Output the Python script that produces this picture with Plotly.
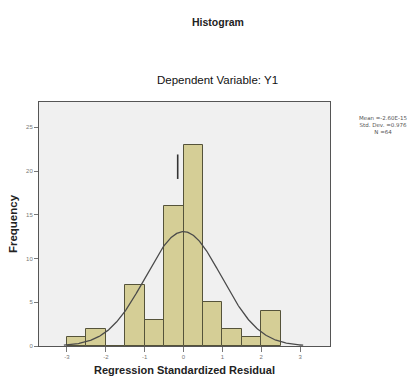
import numpy as np
import plotly.graph_objects as go

# Histogram bins (standardized residuals), bin width 0.5
bin_left_edges = [-3.0, -2.5, -2.0, -1.5, -1.0, -0.5, 0.0, 0.5, 1.0, 1.5, 2.0]
frequencies = [1, 2, 0, 7, 3, 16, 23, 5, 2, 1, 4]
bin_width = 0.5

# Normal curve parameters (from the legend)
mean_val = 0.0
std_dev = 0.976
n_obs = 64
curve_range = [-3.08, 3.08]
stats_text = ["Mean =-2.60E-15", "Std. Dev. =0.976", "N =64"]

x_ticks = [-3, -2, -1, 0, 1, 2, 3]
y_ticks = [0, 5, 10, 15, 20, 25]

# stray vertical mark seen in the reference
mark_x = [-0.15, -0.15]
mark_y = [19.1, 21.9]

centers = [e + bin_width / 2 for e in bin_left_edges]
xs = np.linspace(curve_range[0], curve_range[1], 300)
ys = n_obs * bin_width * np.exp(-0.5 * ((xs - mean_val) / std_dev) ** 2) / (std_dev * np.sqrt(2 * np.pi))

fig = go.Figure()
fig.add_trace(go.Bar(
    x=centers, y=frequencies, width=bin_width,
    marker=dict(color="#d5ce96", line=dict(color="#55533a", width=1)),
    showlegend=False,
))
fig.add_trace(go.Scatter(
    x=xs, y=ys, mode="lines",
    line=dict(color="#4a4a4a", width=1.3), showlegend=False,
))
fig.add_trace(go.Scatter(
    x=mark_x, y=mark_y, mode="lines",
    line=dict(color="#333333", width=1.6), showlegend=False,
))

font = "Liberation Sans, Arial, sans-serif"
fig.update_layout(
    width=417, height=387,
    margin=dict(l=39, r=87, t=102, b=38),
    paper_bgcolor="white", plot_bgcolor="#f0f0f0",
    bargap=0,
    font=dict(family=font, color="#333333"),
    xaxis=dict(
        range=[-3.72, 3.77], tickvals=x_ticks, ticktext=[str(v) for v in x_ticks],
        showgrid=False, zeroline=False, showline=True, linecolor="#555555", linewidth=1,
        mirror=True, ticks="outside", ticklen=5, tickcolor="#777777",
        tickfont=dict(size=6, color="#777777"),
        title=dict(text="<b>Regression Standardized Residual</b>", font=dict(size=11, color="#222222"), standoff=7),
    ),
    yaxis=dict(
        range=[0, 27.9], tickvals=y_ticks, ticktext=[str(v) for v in y_ticks],
        showgrid=False, zeroline=False, showline=True, linecolor="#555555", linewidth=1,
        mirror=True, ticks="outside", ticklen=4, tickcolor="#777777",
        tickfont=dict(size=6, color="#777777"),
        title=dict(text="<b>Frequency</b>", font=dict(size=11.5, color="#222222"), standoff=6),
    ),
)

plot_w = 417 - 39 - 87
plot_h = 387 - 102 - 38
def px(xp):
    return (xp - 39) / plot_w
def py(yp):
    return (387 - 38 - yp) / plot_h

fig.add_annotation(text="<b>Histogram</b>", x=px(218), y=py(21), xref="paper", yref="paper",
                   showarrow=False, font=dict(size=10.5, color="#222222"), xanchor="center", yanchor="middle")
fig.add_annotation(text="Dependent Variable: Y1", x=px(217), y=py(80), xref="paper", yref="paper",
                   showarrow=False, font=dict(size=11.5, color="#111111"), xanchor="center", yanchor="middle")
fig.add_annotation(text="<br>".join(stats_text), x=px(383), y=py(125), xref="paper", yref="paper",
                   showarrow=False, font=dict(size=5.5, color="#555555", family="DejaVu Sans, sans-serif"),
                   xanchor="center", yanchor="middle", align="center")

fig.write_html("out.html")
